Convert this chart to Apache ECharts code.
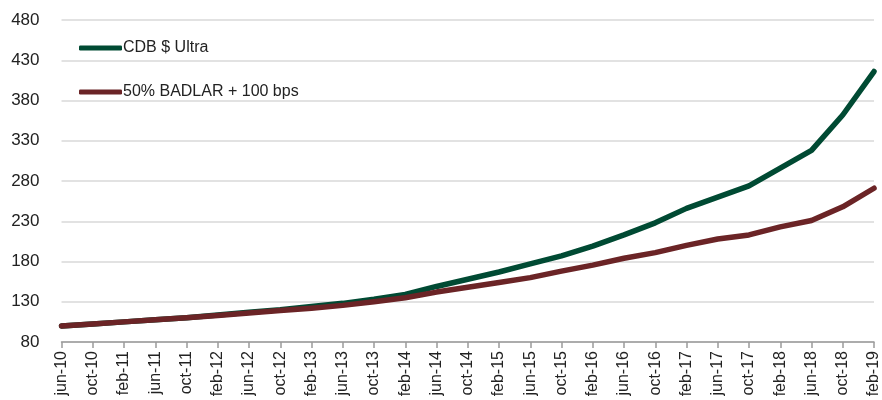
<!DOCTYPE html>
<html>
<head>
<meta charset="utf-8">
<script src="https://cdn.jsdelivr.net/npm/echarts@6/dist/echarts.min.js"></script>
<style>
html,body{margin:0;padding:0;background:#fff;}
#chart{width:882px;height:400px;}
</style>
</head>
<body>
<div id="chart"></div>
<script>
var categories = ["jun-10","oct-10","feb-11","jun-11","oct-11","feb-12","jun-12","oct-12","feb-13","jun-13","oct-13","feb-14","jun-14","oct-14","feb-15","jun-15","oct-15","feb-16","jun-16","oct-16","feb-17","jun-17","oct-17","feb-18","jun-18","oct-18","feb-19"];
var cdbUltra = [100,102.5,105,107.5,110,113.5,117,120,124,128,133,139,149,158,167,177,187,199,213,228,246,260,274,296,318,362,416];
var badlar = [100,102.5,105,107.5,110,113,116,119,122,125.5,130,135,142,148,154,160,168,175.5,184,191,200,208,213,223,231,248,271];
var seriesNames = ["CDB $ Ultra","50% BADLAR + 100 bps"];
var yTicks = {min:80,max:480,interval:50};

var chart = echarts.init(document.getElementById('chart'));
var font = "'Liberation Sans', Arial, sans-serif";
chart.setOption({
  animation:false,
  backgroundColor:'#ffffff',
  grid:{left:61.5,right:1.5,top:20,bottom:58,containLabel:false},
  legend:{
    orient:'vertical', left:79, top:40, itemGap:28, padding:0,
    icon:'roundRect', itemWidth:43, itemHeight:5,
    textStyle:{fontFamily:font,fontSize:16,color:'#222',padding:[0,0,0,-4]},
    data:seriesNames
  },
  xAxis:{
    type:'category', boundaryGap:false, data:categories,
    axisLine:{show:true,lineStyle:{color:'#9a9a9a',width:1.5}},
    axisTick:{show:true,alignWithLabel:true,length:6,lineStyle:{color:'#9a9a9a',width:1.5}},
    axisLabel:{rotate:90,interval:0,margin:9,fontFamily:font,fontSize:16,color:'#222'},
    splitLine:{show:false}
  },
  yAxis:{
    type:'value', min:yTicks.min, max:yTicks.max, interval:yTicks.interval,
    axisLine:{show:false}, axisTick:{show:false},
    axisLabel:{margin:22,fontFamily:font,fontSize:17,color:'#222'},
    splitLine:{show:true,lineStyle:{color:'#d9d9d9',width:1.5}}
  },
  series:[
    {name:seriesNames[0],type:'line',data:cdbUltra,showSymbol:false,symbol:'none',
     lineStyle:{color:'#004a33',width:5.5,cap:'round',join:'round'},itemStyle:{color:'#004a33'},z:2},
    {name:seriesNames[1],type:'line',data:badlar,showSymbol:false,symbol:'none',
     lineStyle:{color:'#6b2426',width:5.5,cap:'round',join:'round'},itemStyle:{color:'#6b2426'},z:3}
  ]
});
</script>
</body>
</html>
